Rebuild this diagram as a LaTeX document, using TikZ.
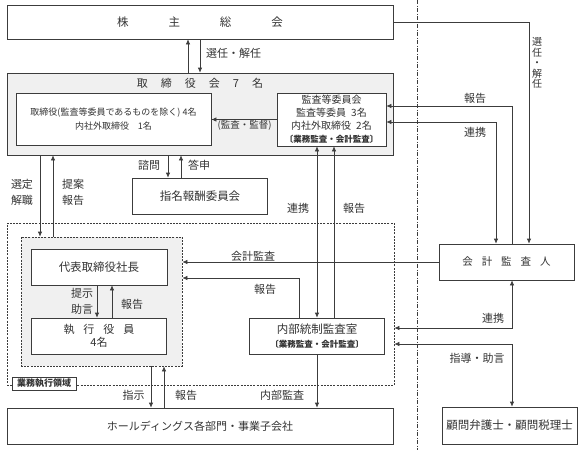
\documentclass[tikz,border=0pt]{standalone}
\usepackage{fontspec}
\setmainfont{Noto Sans CJK JP}
\usetikzlibrary{arrows.meta}
\definecolor{linec}{HTML}{3C3C3C}
\definecolor{textc}{HTML}{333333}
\definecolor{panel}{HTML}{F0F0F0}
\begin{document}
\begin{tikzpicture}[x=1pt,y=-1pt,
  box/.style={draw=linec, line width=0.7pt, fill=white, inner sep=0pt, align=center, text=textc, font=\fontsize{11.5}{14}\selectfont},
  area/.style={draw=linec, line width=0.7pt, dash pattern=on 2pt off 1.2pt, inner sep=0pt},
  arr/.style={draw=linec, line width=0.7pt, -{Latex[length=5pt,width=4.5pt]}},
  both/.style={arr, {Latex[length=5pt,width=4.5pt]}-{Latex[length=5pt,width=4.5pt]}},
  lbl/.style={text=textc, inner sep=0pt, align=center, font=\fontsize{11}{16}\selectfont}]
\useasboundingbox (0,0) rectangle (582,450);
\coordinate (divtop) at (417,0);
\coordinate (divbot) at (417,450);
\draw[linec, line width=0.6pt, dash pattern=on 4pt off 1.5pt on 1pt off 1.5pt] (divtop) -- (divbot);

\node[box, minimum width=386, minimum height=34] (sh) at (200,22) {株\hspace{40pt}主\hspace{40pt}総\hspace{40pt}会};
\node[box, fill=panel, minimum width=386, minimum height=82] (board) at (200,114) {};
\node[lbl] (boardt) at (200,83) {取\hspace{13pt}締\hspace{13pt}役\hspace{13pt}会\hspace{13pt}7\hspace{13pt}名};
\node[box, minimum width=195, minimum height=52, font=\fontsize{9}{14}\selectfont] (dirs) at (113.5,119) {取締役(監査等委員であるものを除く) 4名\\内社外取締役\hspace{1em}1名};
\node[box, minimum width=109, minimum height=53, font=\fontsize{10}{13}\selectfont] (acb) at (331.5,119.5) {監査等委員会\\監査等委員\hspace{0.5em}3名\\内社外取締役\hspace{0.5em}2名\\{\bfseries\fontsize{8.5}{13}\selectfont 〔業務監査・会計監査〕}};
\node[box, minimum width=135, minimum height=36] (nrc) at (200,196) {指名報酬委員会};
\node[area, minimum width=387, minimum height=162] (outer) at (200.5,304) {};
\node[area, fill=panel, minimum width=161, minimum height=129] (exec) at (101.5,301.5) {};
\node[box, minimum width=136, minimum height=36] (ceo) at (99,267) {代表取締役社長};
\node[box, minimum width=135, minimum height=36, font=\fontsize{11}{13}\selectfont] (off) at (99,336) {執\hspace{9pt}行\hspace{9pt}役\hspace{9pt}員\\4名};
\node[box, minimum width=135, minimum height=36, font=\fontsize{11.5}{14}\selectfont] (ia) at (317,336) {内部統制監査室\\{\bfseries\fontsize{8.5}{12}\selectfont 〔業務監査・会計監査〕}};
\node[box, minimum width=386, minimum height=36, font=\fontsize{11}{14}\selectfont] (hd) at (200,426) {ホールディングス各部門・事業子会社};
\node[box, minimum width=135, minimum height=36, font=\fontsize{10.5}{14}\selectfont] (ca) at (506.5,262) {会\hspace{9pt}計\hspace{9pt}監\hspace{9pt}査\hspace{9pt}人};
\node[box, minimum width=135, minimum height=37] (adv) at (509.5,425.5) {顧問弁護士・顧問税理士};
\node[box, minimum width=64, minimum height=13, font=\bfseries\fontsize{9}{10}\selectfont] (arealbl) at (44,383.5) {業務執行領域};

\draw[arr] ([xshift=-12pt]board.north) -- ([xshift=-12pt]sh.south);
\draw[arr] (sh.south) -- (board.north);
\draw[arr] (sh.east) -| ([xshift=22.5pt]ca.north);
\draw[arr] (acb.west) -- (acb.west -| dirs.east);
\draw[arr] ([xshift=-32pt]board.south) -- ([xshift=-32pt]nrc.north);
\draw[arr] ([xshift=-19pt]nrc.north) -- ([xshift=-19pt]board.south);
\draw[arr] ([xshift=-160pt]board.south) -- ([xshift=-160pt]board.south |- exec.north);
\draw[arr] ([xshift=-147pt]board.south |- exec.north) -- ([xshift=-147pt]board.south);
\draw[arr] ([xshift=-2pt]ceo.south) -- ([xshift=-2pt]off.north);
\draw[arr] ([xshift=13pt]off.north) -- ([xshift=13pt]ceo.south);
\draw[arr] ([xshift=-49pt]hd.north |- exec.south) -- ([xshift=-49pt]hd.north);
\draw[arr] ([xshift=-36pt]hd.north) -- ([xshift=-36pt]hd.north |- exec.south);
\draw[both] (ia.north) -- (ia.north |- acb.south);
\draw[arr] ([xshift=17pt]ia.north) -- ([xshift=17pt]ia.north |- acb.south);
\draw[arr] (ia.south) -- (ia.south |- hd.north);
\draw[arr] (ca.west) -- (ca.west -| exec.east);
\draw[arr] ([xshift=-18pt]ia.north) |- ([yshift=23.5pt]exec.east);
\draw[arr] ([xshift=5.5pt]ca.north) |- ([yshift=13.5pt]acb.east);
\draw[both] ([yshift=-2.5pt]acb.east) -| ([xshift=-10.5pt]ca.north);
\draw[both] ([xshift=5.5pt]ca.south) |- ([yshift=-24pt]outer.east);
\draw[both] ([yshift=-40pt]outer.east) -| ([xshift=2.5pt]adv.north);

\node[lbl] (l1) at (233.5,53) {選任・解任};
\node[lbl, font=\fontsize{10}{10.5}\selectfont] (l2) at (537,63) {選\\任\\・\\解\\任};
\node[lbl, font=\fontsize{9.5}{12}\selectfont] (l3) at (244.5,125) {(監査・監督)};
\node[lbl] (l4) at (149,165) {諮問};
\node[lbl] (l5) at (199,165) {答申};
\node[lbl] (l6) at (22,192) {選定\\解職};
\node[lbl] (l7) at (73,192) {提案\\報告};
\node[lbl] (l8) at (82,301) {提示\\助言};
\node[lbl] (l9) at (132,304) {報告};
\node[lbl] (l10) at (133.5,395) {指示};
\node[lbl] (l11) at (186,395) {報告};
\node[lbl] (l12) at (298,208) {連携};
\node[lbl] (l13) at (354,208) {報告};
\node[lbl] (l14) at (282,395) {内部監査};
\node[lbl] (l15) at (253,256) {会計監査};
\node[lbl] (l16) at (265,289) {報告};
\node[lbl] (l17) at (475,98) {報告};
\node[lbl] (l18) at (475,132) {連携};
\node[lbl] (l19) at (493,318) {連携};
\node[lbl] (l20) at (477,358) {指導・助言};
\end{tikzpicture}
\end{document}
